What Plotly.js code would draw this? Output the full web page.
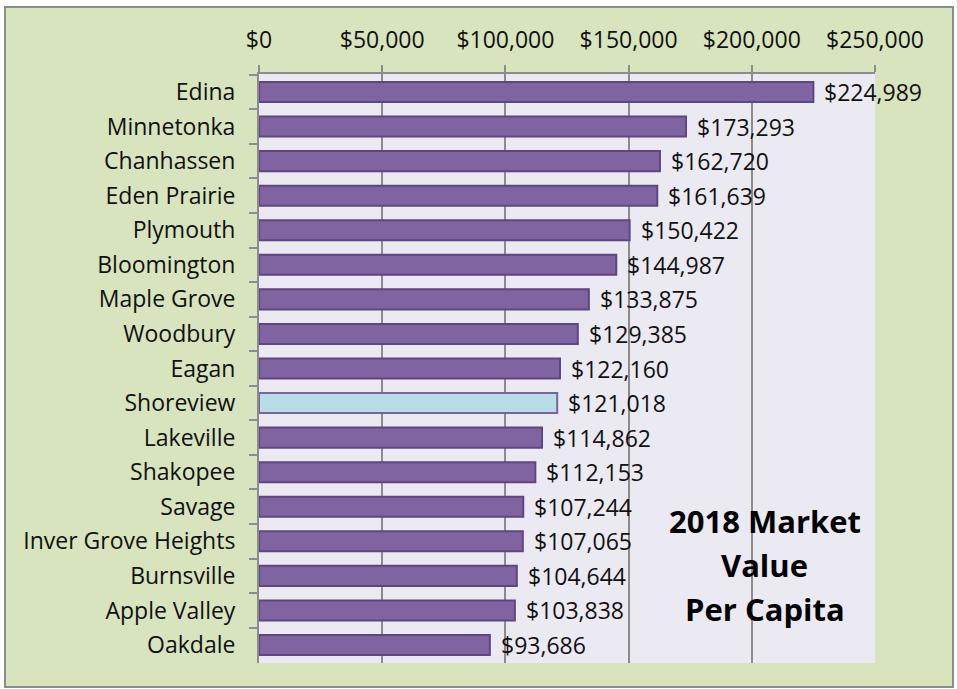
<!DOCTYPE html>
<html>
<head>
<meta charset="utf-8">
<script src="https://cdn.plot.ly/plotly-3.0.1.min.js"></script>
<style>
html,body{margin:0;padding:0;background:#ffffff;}
#chart{position:absolute;left:4px;top:6px;width:946px;height:678px;border:2px solid #8c8c8c;}
</style>
</head>
<body>
<div id="chart"></div>
<script>
const cities = ["Edina","Minnetonka","Chanhassen","Eden Prairie","Plymouth","Bloomington","Maple Grove","Woodbury","Eagan","Shoreview","Lakeville","Shakopee","Savage","Inver Grove Heights","Burnsville","Apple Valley","Oakdale"];
const values = [224989,173293,162720,161639,150422,144987,133875,129385,122160,121018,114862,112153,107244,107065,104644,103838,93686];
const highlight = "Shoreview";
const tickValues = [0,50000,100000,150000,200000,250000];
const tickLabels = ["$0","$50,000","$100,000","$150,000","$200,000","$250,000"];
const titleLines = ["2018 Market","Value","Per Capita"];

const FONT = "'Open Sans', Lato, sans-serif";
const fill = cities.map(c => c === highlight ? "#b7dee8" : "#8064a2");
const edge = cities.map(c => c === highlight ? "#7a6399" : "#5e4680");

const labelAnn = cities.map((c,i) => ({
  x: values[i], y: c, xref: "x", yref: "y",
  text: "$" + values[i].toLocaleString("en-US"),
  showarrow: false, xanchor: "left", xshift: 9,
  font: {family: FONT, size: 23, color: "#111111"}
}));

const titleY = [0.241, 0.166, 0.092];
const titleAnn = titleLines.map((t,i) => ({
  xref: "paper", yref: "paper", x: 0.821, y: titleY[i],
  xanchor: "center", yanchor: "middle",
  text: t, showarrow: false,
  font: {family: FONT, size: 31, color: "#000000", weight: "bold"}
}));

const trace = {
  type: "bar", orientation: "h",
  x: values, y: cities,
  marker: {color: fill, line: {color: edge, width: 2}},
  hoverinfo: "none"
};

const layout = {
  width: 946, height: 678,
  margin: {l: 253, r: 77, t: 66, b: 23},
  paper_bgcolor: "#d7e4bd",
  plot_bgcolor: "#ebe9f1",
  bargap: 0.42,
  showlegend: false,
  font: {family: FONT, size: 23, color: "#111111"},
  xaxis: {
    side: "top", range: [0, 250000],
    tickvals: tickValues, ticktext: tickLabels,
    showgrid: true, gridcolor: "#8c8c8c", gridwidth: 2,
    zeroline: false, showline: true, linecolor: "#8c8c8c", linewidth: 2,
    ticks: "outside", ticklen: 7, tickwidth: 2, tickcolor: "#8c8c8c",
    ticklabelstandoff: 8,
    tickfont: {family: FONT, size: 23, color: "#111111"},
    fixedrange: true
  },
  yaxis: {
    type: "category", autorange: "reversed",
    showgrid: false, zeroline: false,
    showline: true, linecolor: "#8c8c8c", linewidth: 2,
    ticks: "outside", tickson: "boundaries", ticklen: 8, tickwidth: 2, tickcolor: "#8c8c8c",
    ticklabelstandoff: 17,
    tickfont: {family: FONT, size: 23, color: "#111111"},
    fixedrange: true
  },
  annotations: labelAnn.concat(titleAnn)
};

Plotly.newPlot("chart", [trace], layout, {displayModeBar: false, staticPlot: true});
</script>
</body>
</html>
